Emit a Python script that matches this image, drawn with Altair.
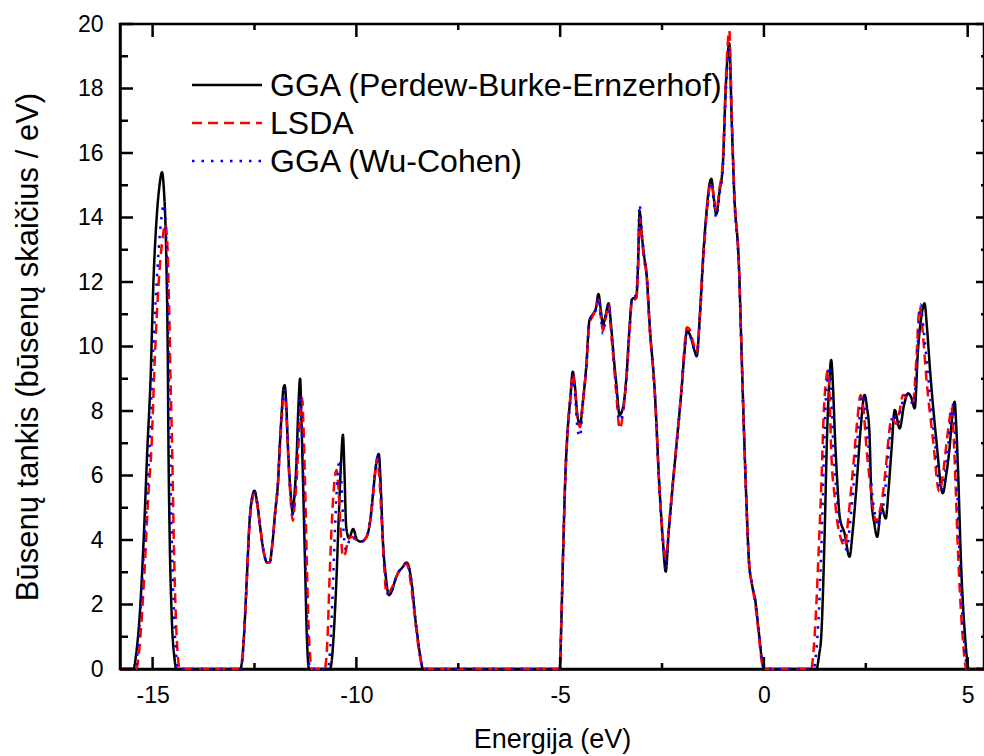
import altair as alt
import pandas as pd

# ---------------- data ----------------
series_names = ["GGA (Perdew-Burke-Ernzerhof)", "LSDA", "GGA (Wu-Cohen)"]

# GGA (Perdew-Burke-Ernzerhof) – black solid
pbe_e1 = [-15.8, -15.47, -15.40, -15.32, -15.22, -15.13, -15.05, -14.98, -14.90, -14.83,
          -14.77, -14.72, -14.69, -14.66, -14.63, -14.61, -14.58, -14.53, -14.46, -14.42]
pbe_d1 = [0, 0, 0.5, 1.6, 4.0, 6.8, 9.0, 12.0, 14.0, 15.0,
          15.4, 14.8, 14.0, 12.5, 10.0, 6.8, 4.0, 1.6, 0.3, 0]
pbe_e2 = [-12.85, -12.80, -12.75, -12.69, -12.62, -12.56, -12.50, -12.44, -12.36, -12.27,
          -12.19, -12.13, -12.06, -11.99, -11.92, -11.88, -11.83, -11.79, -11.76, -11.72,
          -11.68, -11.61, -11.56, -11.52, -11.47, -11.43, -11.38, -11.35, -11.31, -11.25,
          -11.22, -11.16]
pbe_d2 = [0, 0.3, 1.2, 2.76, 4.6, 5.3, 5.53, 5.2, 4.4, 3.6,
          3.3, 3.3, 3.9, 4.9, 5.86, 6.9, 8.0, 8.7, 8.8, 8.2,
          6.9, 5.4, 4.83, 5.4, 6.4, 7.9, 9.0, 7.8, 5.86, 2.76,
          1.2, 0]
pbe_e3 = [-10.65, -10.61, -10.55, -10.49, -10.43, -10.38, -10.33, -10.29, -10.25, -10.18,
          -10.08, -9.98, -9.88, -9.75, -9.65, -9.59, -9.52, -9.45, -9.40, -9.35,
          -9.28, -9.20, -9.12, -9.05, -8.98, -8.87, -8.76, -8.70, -8.62, -8.57,
          -8.50, -8.42, -8.37]
pbe_d3 = [0, 0.2, 1.2, 2.76, 4.8, 6.3, 7.26, 6.0, 4.41, 4.05,
          4.34, 4.0, 3.95, 4.1, 4.7, 5.45, 6.3, 6.67, 5.6, 4.0,
          2.9, 2.29, 2.45, 2.75, 2.97, 3.15, 3.30, 3.1, 2.4, 1.74,
          1.0, 0.3, 0]
pbe_e4 = [-5.05, -5.01, -4.97, -4.93, -4.87, -4.81, -4.75, -4.69, -4.64, -4.57,
          -4.51, -4.45, -4.36, -4.28, -4.18, -4.12, -4.06, -4.00, -3.95, -3.88,
          -3.81, -3.76, -3.70, -3.62, -3.54, -3.46, -3.38, -3.29, -3.24, -3.13,
          -3.09, -3.05, -3.00, -2.94, -2.88, -2.80, -2.68, -2.56, -2.48, -2.41,
          -2.34, -2.27, -2.15, -2.03, -1.95, -1.89, -1.83, -1.77, -1.71, -1.65,
          -1.57, -1.49, -1.40, -1.34, -1.29, -1.23, -1.17, -1.09, -1.01, -0.93,
          -0.85, -0.79, -0.73, -0.61, -0.55, -0.49, -0.43, -0.37, -0.29, -0.21,
          -0.13, -0.05, 0.0]
pbe_d4 = [0, 0, 1.5, 3.48, 6.07, 7.51, 8.4, 9.22, 8.8, 7.8,
          7.57, 8.2, 9.37, 10.82, 11.03, 11.2, 11.63, 11.1, 10.67, 11.0,
          11.34, 10.8, 9.89, 8.8, 7.88, 8.1, 8.96, 10.73, 11.46, 11.55,
          12.5, 14.2, 13.5, 12.8, 12.27, 10.6, 8.65, 5.55, 4.0, 3.02,
          4.2, 5.24, 6.89, 8.55, 9.8, 10.5, 10.4, 10.2, 9.9, 9.7,
          11.0, 12.8, 14.3, 15.0, 15.2, 14.6, 14.1, 14.8, 15.6, 18.2,
          19.4, 17.0, 14.8, 12.4, 9.9, 7.4, 5.2, 3.4, 2.6, 2.1,
          1.2, 0.3, 0]
pbe_e5 = [1.25, 1.29, 1.35, 1.41, 1.49, 1.55, 1.60, 1.65, 1.70, 1.74,
          1.80, 1.86, 1.98, 2.10, 2.18, 2.27, 2.37, 2.47, 2.53, 2.59,
          2.64, 2.71, 2.78, 2.88, 2.99, 3.06, 3.13, 3.21, 3.33, 3.44,
          3.54, 3.62, 3.70, 3.78, 3.86, 3.94, 4.00, 4.07, 4.23, 4.39,
          4.47, 4.55, 4.62, 4.68, 4.72, 4.76, 4.84, 4.93, 5.03, 5.4]
pbe_d5 = [0, 0, 0.4, 1.1, 4.2, 7.3, 8.8, 9.58, 8.6, 7.3,
          5.8, 4.72, 4.2, 3.48, 4.3, 5.65, 7.4, 8.5, 8.1, 7.3,
          5.24, 4.5, 4.1, 5.03, 4.67, 5.6, 6.79, 8.03, 7.46, 8.2,
          8.55, 8.4, 8.08, 9.89, 10.9, 11.34, 10.6, 9.37, 7.1, 5.45,
          6.0, 6.79, 7.8, 8.29, 7.5, 6.27, 3.17, 1.1, 0, 0]

# LSDA – red dashed
lsda_e1 = [-15.8, -15.40, -15.30, -15.20, -15.10, -15.03, -14.95, -14.85, -14.75, -14.69,
           -14.64, -14.60, -14.56, -14.52, -14.48, -14.43, -14.38, -14.34]
lsda_d1 = [0, 0, 1.0, 3.0, 5.5, 6.8, 9.5, 12.0, 13.4, 13.8,
           13.2, 11.5, 9.0, 6.8, 4.0, 1.6, 0.4, 0]
lsda_e2 = [-12.85, -12.80, -12.75, -12.69, -12.62, -12.56, -12.50, -12.44, -12.36, -12.27,
           -12.19, -12.13, -12.06, -11.99, -11.92, -11.88, -11.83, -11.79, -11.76, -11.72,
           -11.68, -11.61, -11.56, -11.52, -11.47, -11.42, -11.37, -11.33, -11.30, -11.26,
           -11.22, -11.18, -11.14, -11.10]
lsda_d2 = [0, 0.3, 1.2, 2.7, 4.5, 5.2, 5.45, 5.15, 4.4, 3.6,
           3.3, 3.3, 3.9, 4.9, 5.8, 6.8, 7.8, 8.4, 8.45, 8.0,
           6.8, 5.2, 4.6, 5.0, 5.8, 7.0, 8.1, 8.4, 7.6, 5.8,
           3.5, 1.6, 0.5, 0]
lsda_e3 = [-10.78, -10.74, -10.70, -10.66, -10.60, -10.54, -10.49, -10.44, -10.39, -10.33,
           -10.27, -10.20, -10.12, -10.0, -9.88, -9.75, -9.65, -9.59, -9.53, -9.49,
           -9.44, -9.38, -9.32, -9.26, -9.18, -9.05, -8.98, -8.87, -8.79, -8.72,
           -8.64, -8.57, -8.50, -8.42, -8.35]
lsda_d3 = [0, 0.3, 1.2, 2.76, 4.6, 5.8, 6.17, 5.6, 4.4, 3.48,
           3.6, 4.0, 4.1, 4.0, 3.95, 4.1, 4.7, 5.4, 6.2, 6.55,
           6.0, 4.6, 3.2, 2.34, 2.4, 2.75, 2.97, 3.15, 3.28, 3.1,
           2.4, 1.7, 0.9, 0.25, 0]
lsda_e4 = pbe_e4[:]
lsda_d4 = [0, 0, 1.5, 3.48, 6.0, 7.5, 8.4, 9.15, 8.7, 7.7,
           7.5, 8.2, 9.3, 10.7, 11.0, 11.2, 11.45, 10.9, 10.5, 10.9,
           11.3, 10.6, 9.7, 8.5, 7.45, 7.9, 8.9, 10.6, 11.4, 11.5,
           12.3, 14.0, 13.4, 12.7, 12.2, 10.5, 8.6, 5.5, 4.1, 3.4,
           4.3, 5.3, 6.9, 8.55, 10.0, 10.6, 10.55, 10.3, 10.0, 9.8,
           11.0, 12.7, 14.2, 14.9, 15.1, 14.6, 14.2, 14.9, 15.7, 18.4,
           19.8, 17.2, 14.9, 12.4, 9.9, 7.4, 5.2, 3.4, 2.6, 2.0,
           1.1, 0.2, 0]
lsda_e5 = [1.12, 1.16, 1.22, 1.29, 1.35, 1.41, 1.47, 1.52, 1.57, 1.61,
           1.65, 1.73, 1.82, 1.90, 1.98, 2.08, 2.19, 2.29, 2.37, 2.44,
           2.52, 2.62, 2.70, 2.76, 2.82, 2.88, 3.01, 3.07, 3.13, 3.25,
           3.33, 3.41, 3.52, 3.66, 3.74, 3.82, 3.90, 3.98, 4.15, 4.30,
           4.40, 4.48, 4.55, 4.60, 4.64, 4.68, 4.76, 4.87, 4.97, 5.4]
lsda_d5 = [0, 0, 0.6, 2.1, 3.9, 5.76, 8.0, 8.9, 9.27, 8.5,
           6.8, 5.4, 4.4, 4.0, 3.79, 4.8, 6.27, 7.7, 8.5, 8.1,
           6.8, 5.6, 4.8, 4.57, 4.8, 5.1, 6.5, 7.3, 7.78, 7.6,
           8.0, 8.5, 8.4, 8.3, 9.6, 11.23, 10.4, 9.1, 7.1, 5.5,
           6.1, 7.0, 7.7, 8.13, 7.6, 6.48, 3.7, 1.1, 0, 0]

# GGA (Wu-Cohen) – blue dotted
wc_e1 = [-15.8, -15.43, -15.33, -15.22, -15.08, -15.00, -14.90, -14.80, -14.72, -14.67,
         -14.63, -14.60, -14.57, -14.53, -14.47, -14.42, -14.39]
wc_d1 = [0, 0, 1.2, 3.5, 6.8, 9.5, 12.0, 13.8, 14.4, 13.5,
         11.5, 9.0, 6.8, 4.0, 1.6, 0.4, 0]
wc_e2 = [-12.85, -12.80, -12.75, -12.69, -12.62, -12.56, -12.50, -12.44, -12.36, -12.27,
         -12.19, -12.13, -12.06, -11.99, -11.92, -11.88, -11.83, -11.79, -11.76, -11.72,
         -11.68, -11.61, -11.56, -11.52, -11.47, -11.43, -11.37, -11.34, -11.30, -11.24,
         -11.20, -11.14]
wc_d2 = [0, 0.3, 1.2, 2.76, 4.6, 5.3, 5.5, 5.2, 4.4, 3.6,
         3.3, 3.3, 3.9, 4.9, 5.86, 6.9, 7.9, 8.55, 8.65, 8.1,
         6.9, 5.4, 4.8, 5.3, 6.2, 7.6, 8.5, 7.6, 5.8, 2.8,
         1.2, 0]
wc_e3 = [-10.70, -10.66, -10.62, -10.57, -10.52, -10.46, -10.41, -10.36, -10.31, -10.26,
         -10.20, -10.12, -10.0, -9.88, -9.75, -9.65, -9.59, -9.52, -9.46, -9.41,
         -9.36, -9.29, -9.22, -9.12, -9.05, -8.98, -8.87, -8.77, -8.70, -8.62,
         -8.57, -8.50, -8.42, -8.37]
wc_d3 = [0, 0.3, 1.2, 2.76, 4.5, 6.0, 6.5, 5.6, 4.2, 3.7,
         3.9, 4.1, 4.05, 3.95, 4.1, 4.7, 5.45, 6.3, 6.65, 5.8,
         4.2, 2.9, 2.3, 2.45, 2.75, 2.97, 3.15, 3.3, 3.1, 2.4,
         1.74, 1.0, 0.3, 0]
wc_e4 = pbe_e4[:]
wc_d4 = [0, 0, 1.5, 3.48, 6.07, 7.5, 8.3, 9.1, 8.6, 7.4,
         7.2, 8.1, 9.3, 10.8, 11.0, 11.15, 11.5, 10.9, 10.4, 10.9,
         11.3, 10.7, 9.8, 8.7, 7.7, 8.0, 8.9, 10.7, 11.5, 11.6,
         12.6, 14.4, 13.6, 12.8, 12.2, 10.6, 8.6, 5.5, 3.9, 3.1,
         4.2, 5.2, 6.9, 8.5, 9.8, 10.45, 10.4, 10.15, 9.9, 9.7,
         10.9, 12.7, 14.2, 14.9, 15.1, 14.5, 14.0, 14.7, 15.5, 18.0,
         19.2, 16.9, 14.7, 12.3, 9.8, 7.3, 5.1, 3.4, 2.6, 2.1,
         1.2, 0.3, 0]
wc_e5 = [1.18, 1.22, 1.28, 1.35, 1.41, 1.47, 1.52, 1.57, 1.61, 1.66,
         1.70, 1.78, 1.85, 1.93, 2.03, 2.12, 2.22, 2.33, 2.42, 2.48,
         2.56, 2.66, 2.74, 2.80, 2.86, 2.92, 3.05, 3.11, 3.17, 3.29,
         3.37, 3.46, 3.56, 3.68, 3.76, 3.84, 3.92, 4.02, 4.19, 4.34,
         4.44, 4.52, 4.58, 4.64, 4.68, 4.72, 4.80, 4.90, 5.00, 5.4]
wc_d5 = [0, 0, 0.5, 1.8, 3.8, 6.5, 8.4, 9.1, 9.4, 8.5,
         7.0, 5.5, 4.6, 4.1, 3.7, 4.6, 6.0, 7.6, 8.5, 8.2,
         7.0, 5.4, 4.7, 4.4, 4.8, 5.0, 6.6, 7.5, 7.9, 7.6,
         8.1, 8.5, 8.4, 8.2, 9.7, 11.3, 10.5, 9.2, 7.1, 5.5,
         6.0, 6.9, 7.7, 8.2, 7.6, 6.4, 3.5, 1.1, 0, 0]

x_major_ticks = [-15, -10, -5, 0, 5]
x_minor_ticks = [-12.5, -7.5, -2.5, 2.5]
y_major_ticks = [0, 2, 4, 6, 8, 10, 12, 14, 16, 18, 20]
y_minor_ticks = [1, 3, 5, 7, 9, 11, 13, 15, 17, 19]

series_colors = ["#000000", "#ff0000", "#0000ff"]
series_dashes = [[1, 0], [10, 6], [2.5, 7]]


def build(name, segments):
    rows = []
    for es, ds in segments:
        if len(es) != len(ds):
            raise ValueError(f"{name}: {len(es)} energies vs {len(ds)} values")
        for e, d in zip(es, ds):
            rows.append({"E": e, "dos": d})
    return pd.DataFrame(rows)


frames = [
    build("pbe", [(pbe_e1, pbe_d1), (pbe_e2, pbe_d2), (pbe_e3, pbe_d3), (pbe_e4, pbe_d4), (pbe_e5, pbe_d5)]),
    build("lsda", [(lsda_e1, lsda_d1), (lsda_e2, lsda_d2), (lsda_e3, lsda_d3), (lsda_e4, lsda_d4), (lsda_e5, lsda_d5)]),
    build("wc", [(wc_e1, wc_d1), (wc_e2, wc_d2), (wc_e3, wc_d3), (wc_e4, wc_d4), (wc_e5, wc_d5)]),
]

# ---------------- chart ----------------
W, H = 864, 645
FONT = "Liberation Sans"
LW = 2.5
X_LO, X_HI = -15.8, 5.4

xscale = alt.Scale(domain=[X_LO, X_HI], nice=False, zero=False)
yscale = alt.Scale(domain=[0, 20], nice=False, zero=False)

X_TITLE = "Energija (eV)"
Y_TITLE = "Būsenų tankis (būsenų skaičius / eV)"


def XE():
    return alt.X("E:Q", scale=xscale,
                 axis=alt.Axis(values=x_major_ticks, labelExpr="toString(datum.value)", title=X_TITLE))


def YE():
    return alt.Y("dos:Q", scale=yscale, axis=alt.Axis(values=y_major_ticks, title=Y_TITLE))


line_layers = []
for i, df in enumerate(frames):
    line_layers.append(
        alt.Chart(df).mark_line(color=series_colors[i], strokeWidth=LW,
                                strokeDash=series_dashes[i], interpolate="monotone")
        .encode(x=XE(), y=YE())
    )
lines = alt.layer(*line_layers)

xmaj = pd.DataFrame({"E": x_major_ticks, "dos": [0.0] * len(x_major_ticks)})
xmin = pd.DataFrame({"E": x_minor_ticks, "dos": [0.0] * len(x_minor_ticks)})
ymaj = pd.DataFrame({"dos": y_major_ticks, "E": [X_LO] * len(y_major_ticks)})
ymin = pd.DataFrame({"dos": y_minor_ticks, "E": [X_LO] * len(y_minor_ticks)})
tick_style = dict(color="#000000", strokeWidth=LW, strokeDash=[1, 0])


def XT():
    return alt.X("E:Q", scale=xscale, axis=None)


def YT():
    return alt.Y("dos:Q", scale=yscale, axis=None)


# inward ticks on all four sides
ticks = alt.layer(
    alt.Chart(xmaj).mark_rule(**tick_style).encode(x=XT(), y=alt.value(H), y2=alt.value(H - 12)),
    alt.Chart(xmin).mark_rule(**tick_style).encode(x=XT(), y=alt.value(H), y2=alt.value(H - 6)),
    alt.Chart(xmaj).mark_rule(**tick_style).encode(x=XT(), y=alt.value(0), y2=alt.value(13)),
    alt.Chart(xmin).mark_rule(**tick_style).encode(x=XT(), y=alt.value(0), y2=alt.value(6)),
    alt.Chart(ymaj).mark_rule(**tick_style).encode(y=YT(), x=alt.value(0), x2=alt.value(13)),
    alt.Chart(ymin).mark_rule(**tick_style).encode(y=YT(), x=alt.value(0), x2=alt.value(8)),
    alt.Chart(ymaj).mark_rule(**tick_style).encode(y=YT(), x=alt.value(W), x2=alt.value(W - 8)),
    alt.Chart(ymin).mark_rule(**tick_style).encode(y=YT(), x=alt.value(W), x2=alt.value(W - 3)),
)

# legend (inside the plot, upper left)
legend_rows = [61, 99, 137]
legend_layers = []
for i, name in enumerate(series_names):
    ldf = pd.DataFrame({"label": [name]})
    legend_layers.append(
        alt.Chart(ldf).mark_rule(color=series_colors[i], strokeWidth=LW, strokeDash=series_dashes[i])
        .encode(x=alt.value(72), x2=alt.value(142), y=alt.value(legend_rows[i]))
    )
    legend_layers.append(
        alt.Chart(ldf).mark_text(align="left", baseline="middle", font=FONT, fontSize=32, color="black")
        .encode(text="label:N", x=alt.value(150), y=alt.value(legend_rows[i] + 1))
    )

chart = (
    alt.layer(lines, ticks, *legend_layers)
    .resolve_axis(x="independent", y="independent")
    .properties(width=W, height=H, padding={"left": 120, "top": 24, "right": 0, "bottom": 87},
                autosize=alt.AutoSizeParams(type="none"), background="white")
    # the plot frame (top and right edges) comes from the view outline
    .configure_view(stroke="black", strokeWidth=LW)
    .configure_axis(labelFont=FONT, labelFontSize=23, labelColor="black",
                    titleFont=FONT, titleFontWeight="normal", titleColor="black",
                    domainColor="black", domainWidth=LW, grid=False, ticks=False)
    .configure_axisX(labelPadding=15, titlePadding=19, titleFontSize=27)
    .configure_axisY(labelPadding=17, titlePadding=33, titleFontSize=31)
)

chart.save("out.html", embed_options={"renderer": "svg", "actions": False})
